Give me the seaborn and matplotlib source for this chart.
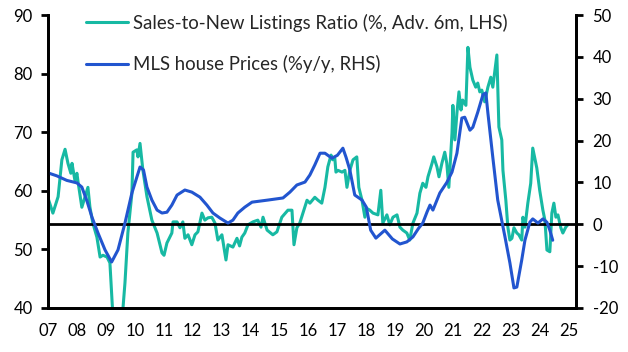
import matplotlib
matplotlib.use("Agg")
import matplotlib.pyplot as plt
import seaborn as sns

# Sales-to-new listings ratio (%, advanced 6 months, LHS)
ratio_years = [
    2007.00, 2007.17, 2007.35, 2007.48, 2007.59, 2007.69, 2007.79, 2007.83, 2007.93, 2008.00,
    2008.04, 2008.17, 2008.28, 2008.38, 2008.45, 2008.55, 2008.69, 2008.80, 2008.90, 2009.04,
    2009.14, 2009.25, 2009.40, 2009.56, 2009.66, 2009.76, 2009.90, 2009.94, 2010.07, 2010.11,
    2010.18, 2010.28, 2010.42, 2010.59, 2010.77, 2010.94, 2011.01, 2011.11, 2011.28, 2011.32,
    2011.46, 2011.56, 2011.66, 2011.73, 2011.84, 2011.97, 2012.08, 2012.18, 2012.32, 2012.42,
    2012.53, 2012.66, 2012.77, 2012.87, 2013.01, 2013.15, 2013.22, 2013.39, 2013.53, 2013.62,
    2013.70, 2013.80, 2013.91, 2014.08, 2014.25, 2014.36, 2014.43, 2014.57, 2014.77, 2014.91,
    2015.08, 2015.29, 2015.43, 2015.50, 2015.60, 2015.70, 2015.81, 2015.95, 2016.05, 2016.22,
    2016.33, 2016.46, 2016.57, 2016.67, 2016.78, 2016.84, 2016.91, 2016.95, 2017.02, 2017.16,
    2017.26, 2017.33, 2017.43, 2017.54, 2017.67, 2017.74, 2017.85, 2017.95, 2018.02, 2018.12,
    2018.23, 2018.40, 2018.50, 2018.57, 2018.71, 2018.81, 2018.92, 2019.06, 2019.16, 2019.26,
    2019.40, 2019.50, 2019.61, 2019.75, 2019.85, 2019.95, 2020.06, 2020.13, 2020.27, 2020.33,
    2020.44, 2020.51, 2020.61, 2020.71, 2020.78, 2020.85, 2020.96, 2020.99, 2021.06, 2021.13,
    2021.20, 2021.27, 2021.33, 2021.44, 2021.51, 2021.58, 2021.68, 2021.78, 2021.85, 2021.92,
    2021.99, 2022.09, 2022.20, 2022.30, 2022.37, 2022.51, 2022.58, 2022.68, 2022.72, 2022.82,
    2022.89, 2022.96, 2023.03, 2023.10, 2023.20, 2023.27, 2023.37, 2023.41, 2023.48, 2023.58,
    2023.68, 2023.75, 2023.89, 2023.99, 2024.10, 2024.17, 2024.24, 2024.34, 2024.41, 2024.48,
    2024.55, 2024.62, 2024.72, 2024.79, 2024.89, 2024.96,
]
ratio_vals = [
    58.8, 56.2, 59.0, 65.3, 67.1, 64.7, 63.0, 64.7, 61.8, 63.0,
    61.5, 57.2, 59.0, 60.6, 57.2, 54.5, 52.1, 48.7, 49.0, 48.7,
    47.7, 38.0, 36.0, 38.0, 44.3, 52.8, 59.6, 66.6, 67.0, 65.8,
    68.1, 63.5, 59.0, 55.0, 52.8, 49.4, 49.0, 51.1, 52.8, 54.7,
    54.7, 53.7, 54.7, 51.9, 52.5, 50.8, 52.5, 53.0, 56.2, 55.0,
    55.4, 55.5, 54.5, 51.6, 52.5, 48.2, 50.8, 50.4, 51.9, 50.6,
    52.1, 52.8, 54.2, 54.7, 55.0, 53.8, 55.5, 53.3, 52.5, 53.0,
    55.5, 56.7, 56.7, 50.8, 53.7, 54.5, 56.2, 58.4, 57.9, 58.9,
    58.4, 57.9, 60.6, 64.1, 66.1, 65.3, 65.6, 63.2, 63.5, 63.2,
    63.5, 60.6, 63.5, 65.3, 65.8, 60.6, 58.4, 55.5, 57.0, 56.7,
    56.2, 55.9, 60.1, 54.5, 55.9, 54.2, 55.5, 55.9, 53.8, 53.3,
    52.8, 51.6, 54.5, 56.2, 59.6, 61.3, 60.6, 62.4, 64.7, 65.8,
    64.1, 62.4, 64.7, 66.6, 64.7, 60.6, 69.9, 74.6, 68.7, 73.3,
    76.9, 73.8, 75.5, 74.6, 84.5, 81.1, 78.9, 77.7, 78.4, 76.9,
    77.2, 75.2, 77.7, 79.4, 77.7, 83.2, 70.9, 68.7, 63.5, 58.4,
    53.8, 51.6, 51.9, 53.7, 52.8, 52.5, 51.6, 55.5, 53.8, 57.9,
    61.3, 67.3, 63.9, 60.1, 56.7, 55.0, 49.9, 49.6, 56.2, 57.9,
    55.5, 55.9, 53.7, 52.8, 53.8, 54.2,
]

# MLS house prices (%y/y, RHS)
price_years = [
    2007.00, 2007.30, 2007.65, 2008.00, 2008.17, 2008.35, 2008.52, 2008.73, 2008.97, 2009.20,
    2009.42, 2009.66, 2009.90, 2010.18, 2010.30, 2010.42, 2010.59, 2010.77, 2010.94, 2011.11,
    2011.28, 2011.46, 2011.73, 2011.97, 2012.25, 2012.49, 2012.70, 2012.94, 2013.22, 2013.39,
    2013.56, 2013.80, 2014.05, 2014.60, 2015.12, 2015.36, 2015.60, 2015.88, 2016.05, 2016.22,
    2016.40, 2016.57, 2016.81, 2017.00, 2017.19, 2017.30, 2017.43, 2017.60, 2017.85, 2018.00,
    2018.15, 2018.33, 2018.64, 2018.90, 2019.16, 2019.40, 2019.61, 2019.80, 2019.95, 2020.10,
    2020.20, 2020.30, 2020.54, 2020.78, 2020.96, 2021.13, 2021.30, 2021.40, 2021.58, 2021.68,
    2021.85, 2022.03, 2022.13, 2022.20, 2022.37, 2022.54, 2022.79, 2022.96, 2023.10, 2023.20,
    2023.37, 2023.48, 2023.65, 2023.75, 2023.93, 2024.10, 2024.24, 2024.34, 2024.44,
]
price_vals = [
    12.3, 11.6, 10.5, 9.9, 8.9, 5.5, 1.7, -2.1, -6.1, -9.0,
    -6.1, 0.3, 7.5, 13.7, 13.0, 8.9, 5.8, 3.4, 2.7, 2.9,
    4.6, 7.0, 8.2, 7.7, 6.5, 4.6, 2.7, 1.5, 0.3, 1.0,
    2.7, 4.1, 5.3, 5.8, 6.3, 7.7, 9.4, 10.1, 11.8, 14.2,
    17.0, 17.0, 15.8, 16.5, 18.2, 16.0, 13.0, 7.0, 5.8, 4.1,
    -1.4, -3.3, -1.4, -3.5, -4.7, -4.2, -3.0, -1.0, 0.3, 3.0,
    4.6, 3.4, 7.5, 10.0, 12.5, 17.0, 25.4, 25.6, 22.5, 23.2,
    26.8, 31.0, 31.4, 26.6, 16.0, 5.8, -3.0, -9.2, -15.2, -15.0,
    -8.5, -3.8, 0.5, 1.3, 0.3, 1.3, 0.5, -1.4, -3.8,
]

year_ticks = list(range(2007, 2026))
year_labels = [f"{y % 100:02d}" for y in year_ticks]

ratio_label = "Sales-to-New Listings Ratio (%, Adv. 6m, LHS)"
price_label = "MLS house Prices (%y/y, RHS)"

teal = "#17B9A3"
blue = "#2255CF"

sns.set_style("white")
plt.rcParams['font.family'] = ['Lato', 'DejaVu Sans']
plt.rcParams['axes.unicode_minus'] = False

fig, ax = plt.subplots(figsize=(6.28, 3.52), dpi=100)
fig.subplots_adjust(left=0.0764, right=0.917, bottom=0.125, top=0.957)
ax2 = ax.twinx()

sns.lineplot(x=ratio_years, y=ratio_vals, ax=ax, color=teal, linewidth=2.2, label=ratio_label)
sns.lineplot(x=price_years, y=price_vals, ax=ax2, color=blue, linewidth=2.2, label=price_label)
ax2.axhline(0, color="black", linewidth=2.0, zorder=1)

ax.set_xlim(2007, 2025.24)
ax.set_ylim(40, 90)
ax2.set_ylim(-20, 50)
ax.set_xticks(year_ticks)
ax.set_xticklabels(year_labels)
ax.set_yticks(range(40, 91, 10))
ax2.set_yticks(range(-20, 51, 10))

for a in (ax, ax2):
    a.set_xlabel("")
    a.set_ylabel("")
    a.spines["top"].set_visible(False)
    for s in ("left", "right", "bottom"):
        a.spines[s].set_linewidth(2.0)
        a.spines[s].set_color("black")
ax.tick_params(axis="both", direction="out", length=5, width=2, labelsize=12, pad=6, colors="black")
ax2.tick_params(axis="y", direction="out", length=5, width=2, labelsize=12, pad=7, colors="black")

h1, l1 = ax.get_legend_handles_labels()
h2, l2 = ax2.get_legend_handles_labels()
ax.get_legend().remove()
ax2.get_legend().remove()
ax2.legend(h1 + h2, l1 + l2, loc="upper left", bbox_to_anchor=(0.072, 1.005),
           frameon=False, fontsize=13.4, handlelength=2.25, handletextpad=0.3,
           labelspacing=1.25, borderpad=0, borderaxespad=0)

fig.savefig("out.png", dpi=100)
